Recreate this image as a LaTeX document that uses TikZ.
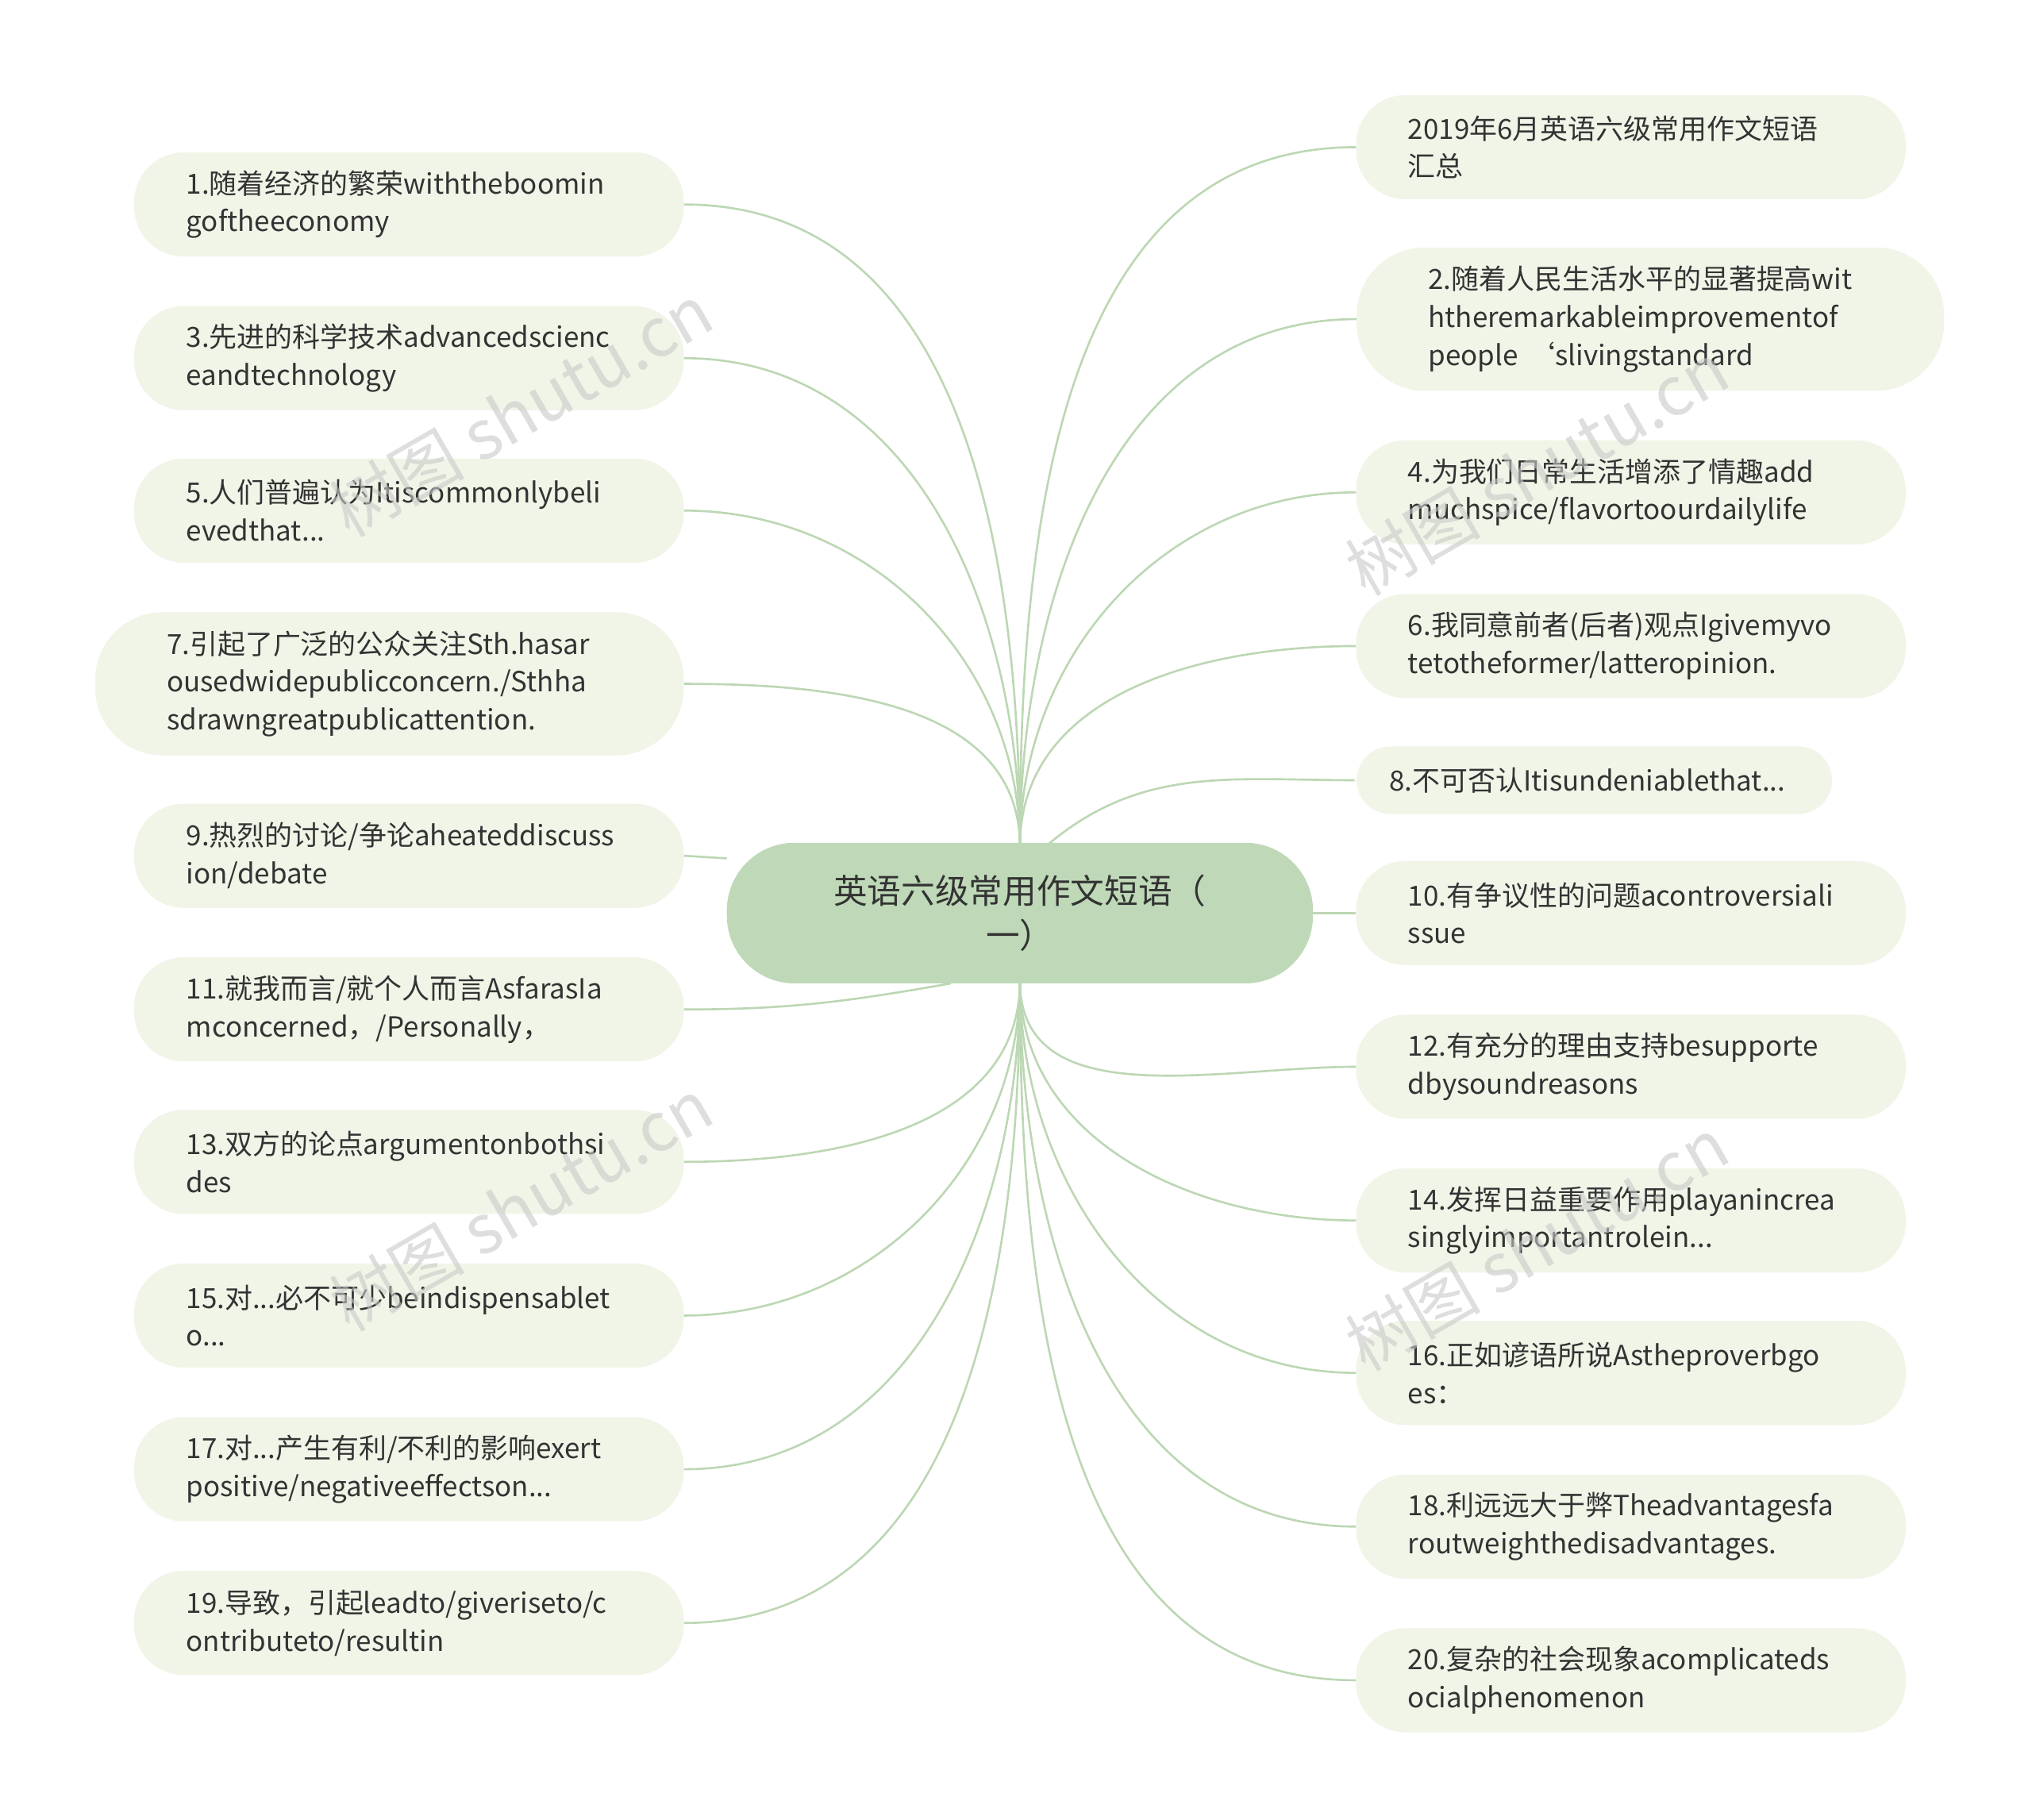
\documentclass[tikz,border=0pt]{standalone}
\usepackage{fontspec}
\setmainfont{Noto Sans CJK SC}
\begin{document}
\begin{tikzpicture}[x=1pt,y=-1pt,
  leaf/.style={fill=leafc,rounded corners=38pt,inner xsep=40pt,align=left,text=txt,font=\fontsize{21.3}{29}\selectfont,minimum height=80pt},
  link/.style={draw=linec,line width=1.6pt}]
\definecolor{leafc}{HTML}{F0F5E8}
\definecolor{linec}{HTML}{BCD7B4}
\definecolor{rootc}{HTML}{BFD9B8}
\definecolor{txt}{HTML}{333333}
\definecolor{wm}{HTML}{C8C8C8}
\useasboundingbox (0,0) rectangle (1560,1397);
\coordinate (ct) at (783,650);
\coordinate (cb) at (783,753);
\coordinate (cw) at (558,659);
\coordinate (ce) at (1008,701);
\coordinate (c8) at (805,648);
\coordinate (c11) at (730,755);
\coordinate (e8) at (1040,599);
% left
\node[leaf,text width=342pt] (l1) at (314,157) {1.随着经济的繁荣withtheboomin\\goftheeconomy};
\node[leaf,text width=342pt] (l3) at (314,275) {3.先进的科学技术advancedscienc\\eandtechnology};
\node[leaf,text width=342pt] (l5) at (314,392) {5.人们普遍认为Itiscommonlybeli\\evedthat...};
\node[leaf,minimum height=110pt,rounded corners=52pt,inner xsep=55pt,text width=342pt] (l7) at (299,525) {7.引起了广泛的公众关注Sth.hasar\\ousedwidepublicconcern./Sthha\\sdrawngreatpublicattention.};
\node[leaf,text width=342pt] (l9) at (314,657) {9.热烈的讨论/争论aheateddiscuss\\ion/debate};
\node[leaf,text width=342pt] (l11) at (314,775) {11.就我而言/就个人而言AsfarasIa\\mconcerned，/Personally，};
\node[leaf,text width=342pt] (l13) at (314,892) {13.双方的论点argumentonbothsi\\des};
\node[leaf,text width=342pt] (l15) at (314,1010) {15.对...必不可少beindispensablet\\o...};
\node[leaf,text width=342pt] (l17) at (314,1128) {17.对...产生有利/不利的影响exert\\positive/negativeeffectson...};
\node[leaf,text width=342pt] (l19) at (314,1246) {19.导致，引起leadto/giveriseto/c\\ontributeto/resultin};
% right
\node[leaf,text width=342pt] (r0) at (1252,113) {2019年6月英语六级常用作文短语\\汇总};
\node[leaf,minimum height=110pt,rounded corners=52pt,inner xsep=55pt,text width=341pt] (r2) at (1267,245) {2.随着人民生活水平的显著提高wit\\htheremarkableimprovementof\\people ‘slivingstandard};
\node[leaf,text width=342pt] (r4) at (1252,378) {4.为我们日常生活增添了情趣add\\muchspice/flavortoourdailylife};
\node[leaf,text width=342pt] (r6) at (1252,496) {6.我同意前者(后者)观点Igivemyvo\\tetotheformer/latteropinion.};
\node[leaf,text width=315pt,minimum height=52pt,rounded corners=26pt,inner xsep=25pt] (r8) at (1224,599) {8.不可否认Itisundeniablethat...};
\node[leaf,text width=342pt] (r10) at (1252,701) {10.有争议性的问题acontroversiali\\ssue};
\node[leaf,text width=342pt] (r12) at (1252,819) {12.有充分的理由支持besupporte\\dbysoundreasons};
\node[leaf,text width=342pt] (r14) at (1252,937) {14.发挥日益重要作用playanincrea\\singlyimportantrolein...};
\node[leaf,text width=342pt] (r16) at (1252,1054) {16.正如谚语所说Astheproverbgo\\es：};
\node[leaf,text width=342pt] (r18) at (1252,1172) {18.利远远大于弊Theadvantagesfa\\routweighthedisadvantages.};
\node[leaf,text width=342pt] (r20) at (1252,1290) {20.复杂的社会现象acomplicateds\\ocialphenomenon};
% links
\foreach \n in {l1,l3,l5,l7} \draw[link] (ct) to[out=90,in=0] (\n.east);
\foreach \n in {l13,l15,l17,l19} \draw[link] (cb) to[out=-90,in=0] (\n.east);
\foreach \n in {r0,r2,r4,r6} \draw[link] (ct) to[out=90,in=180] (\n.west);
\foreach \n in {r12,r14,r16,r18,r20} \draw[link] (cb) to[out=-90,in=180] (\n.west);
\draw[link] (cw) -- (l9.east);
\draw[link] (ce) -- (r10.west);
\draw[link] (c8) to[out=40,in=180] (e8);
\draw[link] (c11) to[out=-170,in=0] (l11.east);
\node[fill=rootc,rounded corners=52pt,minimum width=450pt,minimum height=108pt,align=center,text=txt,font=\fontsize{26}{34}\selectfont] (root) at (783,701) {英语六级常用作文短语（\\一）};
\foreach \x/\y [count=\i] in {400/315,1180/360,400/925,1180/955}
  \node[text=wm,opacity=0.6,rotate=30,font=\fontsize{52}{52}\selectfont] (wm\i) at (\x,\y) {树图 shutu.cn};
\end{tikzpicture}
\end{document}
